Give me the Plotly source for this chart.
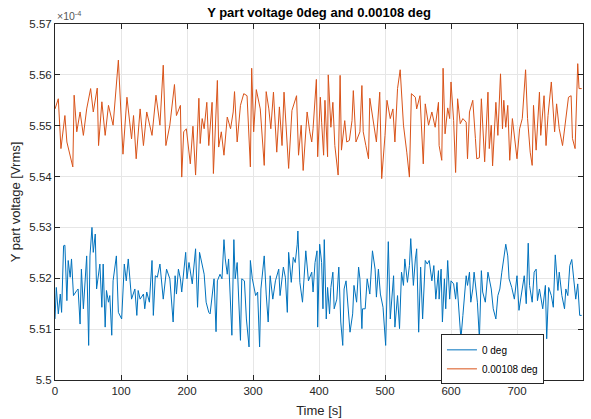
import plotly.graph_objects as go

# Values in units of 1e-4 V (axis shows x10^-4 multiplier)
SCALE_EXP = -4

t_0deg = [0, 2, 5, 8, 10, 13, 15, 18, 20, 23, 25, 28, 33, 35, 38, 40, 43, 48, 51, 53, 56, 58, 61, 63, 68, 71, 73, 76, 78, 81, 83, 86, 88, 91, 93, 96,
          101, 105, 108, 111, 114, 116, 121, 124, 126, 129, 134, 136, 139, 143, 147, 149, 152, 155, 159, 164, 169, 174, 179, 182, 184, 187,
          190, 192, 198, 200, 203, 208, 213, 216, 219, 223, 226, 229, 233, 235, 239, 241, 244, 246, 250, 253, 256, 258, 261, 263, 268, 271, 273, 276,
          281, 283, 287, 290, 294, 296, 299, 304, 307, 310, 312, 317, 320, 323, 326, 330, 334, 339, 341, 346, 349, 352, 354, 358, 361, 364, 367, 368,
          371, 375, 380, 384, 389, 391, 394, 397, 398, 401, 404, 406, 408, 411, 413, 416, 418, 421, 423, 427, 430, 433, 436, 438, 441, 444, 447, 451,
          453, 457, 460, 462, 465, 466, 470, 473, 477, 481, 485, 487, 490, 493, 497, 501, 504, 505, 508, 510, 513, 515, 519, 522, 525, 528, 530, 534,
          537, 539, 543, 546, 548, 551, 554, 557, 561, 564, 567, 571, 574, 577, 581, 582, 585, 587, 590, 592, 595, 598, 600, 604, 607, 609, 612, 615,
          618, 620, 623, 625, 628, 630, 633, 635, 638, 640, 643, 646, 648, 652, 656, 658, 661, 664, 668, 671, 674, 677, 679, 683, 686, 688, 692, 696,
          700, 703, 706, 709, 711, 714, 717, 719, 723, 726, 729, 731, 734, 739, 743, 745, 748, 752, 755, 758, 762, 764, 768, 772, 774, 777, 780, 783,
          787, 789, 792, 795, 798]
v_0deg = [5.5120, 5.5182, 5.5130, 5.5169, 5.5133, 5.5264, 5.5265, 5.5156, 5.5235, 5.5202, 5.5238, 5.5166, 5.5176, 5.5179, 5.5110, 5.5218,
          5.5140, 5.5244, 5.5068, 5.5244, 5.5300, 5.5251, 5.5287, 5.5179, 5.5228, 5.5143, 5.5228, 5.5104, 5.5176, 5.5153, 5.5166, 5.5088,
          5.5195, 5.5228, 5.5244, 5.5133, 5.5120, 5.5228, 5.5195, 5.5238, 5.5195, 5.5159, 5.5179, 5.5127, 5.5176, 5.5159, 5.5169, 5.5140,
          5.5173, 5.5153, 5.5235, 5.5127, 5.5205, 5.5202, 5.5228, 5.5159, 5.5218, 5.5199, 5.5114, 5.5205, 5.5169, 5.5218,
          5.5199, 5.5173, 5.5251, 5.5199, 5.5231, 5.5189, 5.5258, 5.5143, 5.5251, 5.5228, 5.5208, 5.5153, 5.5133, 5.5130, 5.5186, 5.5199,
          5.5095, 5.5195, 5.5208, 5.5199, 5.5276, 5.5238, 5.5208, 5.5238, 5.5088, 5.5276, 5.5199, 5.5231, 5.5078, 5.5199, 5.5195, 5.5120,
          5.5065, 5.5235, 5.5199, 5.5166, 5.5173, 5.5065, 5.5179, 5.5244, 5.5169, 5.5114, 5.5205, 5.5159, 5.5195, 5.5218, 5.5166, 5.5222,
          5.5202, 5.5133, 5.5251, 5.5192, 5.5241, 5.5231, 5.5267, 5.5293, 5.5192, 5.5153, 5.5254, 5.5195, 5.5212, 5.5173, 5.5231, 5.5254,
          5.5104, 5.5267, 5.5231, 5.5140, 5.5276, 5.5120, 5.5182, 5.5130, 5.5182, 5.5212, 5.5140, 5.5159, 5.5222, 5.5114, 5.5068, 5.5179,
          5.5195, 5.5140, 5.5094, 5.5130, 5.5186, 5.5153, 5.5222, 5.5199, 5.5101, 5.5140, 5.5140, 5.5199, 5.5169, 5.5254, 5.5218, 5.5163,
          5.5218, 5.5169, 5.5143, 5.5068, 5.5238, 5.5272, 5.5120, 5.5153, 5.5205, 5.5104, 5.5166, 5.5101, 5.5212, 5.5186, 5.5238, 5.5192,
          5.5225, 5.5278, 5.5186, 5.5238, 5.5258, 5.5094, 5.5222, 5.5120, 5.5235, 5.5228, 5.5235, 5.5195, 5.5225, 5.5159, 5.5215, 5.5159,
          5.5218, 5.5114, 5.5199, 5.5140, 5.5235, 5.5159, 5.5195, 5.5189, 5.5159, 5.5192, 5.5143, 5.5081, 5.5127, 5.5163, 5.5205, 5.5186,
          5.5212, 5.5153, 5.5179, 5.5212, 5.5169, 5.5153, 5.5081, 5.5215, 5.5173, 5.5153, 5.5212, 5.5199, 5.5179, 5.5140, 5.5120, 5.5166,
          5.5179, 5.5212, 5.5231, 5.5267, 5.5244, 5.5199, 5.5182, 5.5159, 5.5205, 5.5137, 5.5163, 5.5186, 5.5205, 5.5150, 5.5269, 5.5186,
          5.5153, 5.5212, 5.5218, 5.5156, 5.5179, 5.5140, 5.5186, 5.5081, 5.5182, 5.5166, 5.5143, 5.5246, 5.5176, 5.5212, 5.5166, 5.5140,
          5.5179, 5.5166, 5.5225, 5.5237, 5.5189, 5.5159, 5.5189, 5.5127, 5.5127]

t_00108deg = [0, 5, 9, 15, 18, 27, 29, 33, 38, 43, 48, 54, 58, 64, 66, 71, 76, 81, 88, 96, 103, 109, 116, 119, 123, 129, 134, 139, 147, 153,
              159, 164, 168, 174, 181, 184, 190, 192, 195, 199, 205, 209, 213, 218, 220, 223, 226, 230, 233, 238, 240, 246, 248, 252, 256,
              261, 266, 270, 272, 276, 281, 286, 291, 296, 298, 301, 305, 311, 317, 320, 324, 327, 331, 336, 340, 344, 347, 351, 354, 359,
              366, 369, 373, 376, 382, 386, 389, 391, 396, 398, 402, 404, 407, 409, 413, 414, 418, 421, 424, 429, 432, 434, 439, 442, 446,
              450, 452, 456, 462, 465, 467, 471, 475, 477, 482, 487, 492, 495, 500, 503, 508, 512, 515, 519, 523, 528, 533, 537, 540, 546,
              548, 553, 558, 561, 566, 571, 576, 581, 582, 586, 588, 591, 595, 598, 600, 604, 607, 610, 614, 618, 623, 625, 628, 633, 637,
              639, 643, 646, 651, 656, 658, 661, 663, 668, 671, 675, 678, 680, 683, 686, 689, 693, 700, 704, 708, 713, 716, 720, 723, 725,
              729, 734, 736, 741, 744, 747, 752, 757, 760, 764, 769, 774, 778, 782, 784, 788, 789, 792, 794, 798]
v_00108deg = [5.5533, 5.5553, 5.5455, 5.5520, 5.5468, 5.5419, 5.5560, 5.5488, 5.5527, 5.5481, 5.5533, 5.5573, 5.5527, 5.5574, 5.5461,
              5.5547, 5.5481, 5.5540, 5.5501, 5.5629, 5.5444, 5.5556, 5.5474, 5.5520, 5.5435, 5.5533, 5.5461, 5.5527, 5.5481, 5.5560,
              5.5501, 5.5619, 5.5461, 5.5501, 5.5581, 5.5520, 5.5540, 5.5399, 5.5488, 5.5494, 5.5425, 5.5499, 5.5403, 5.5554, 5.5465,
              5.5514, 5.5494, 5.5546, 5.5461, 5.5546, 5.5406, 5.5589, 5.5458, 5.5488, 5.5442, 5.5517, 5.5494, 5.5527, 5.5567, 5.5468,
              5.5540, 5.5563, 5.5559, 5.5419, 5.5613, 5.5488, 5.5571, 5.5533, 5.5422, 5.5567, 5.5533, 5.5494, 5.5566, 5.5448, 5.5537,
              5.5461, 5.5566, 5.5481, 5.5416, 5.5530, 5.5559, 5.5442, 5.5501, 5.5412, 5.5527, 5.5488, 5.5468, 5.5494, 5.5591, 5.5439,
              5.5556, 5.5507, 5.5442, 5.5550, 5.5439, 5.5600, 5.5497, 5.5546, 5.5461, 5.5403, 5.5599, 5.5452, 5.5510, 5.5468, 5.5471,
              5.5510, 5.5569, 5.5468, 5.5488, 5.5579, 5.5488, 5.5461, 5.5435, 5.5554, 5.5507, 5.5468, 5.5566, 5.5396, 5.5481, 5.5550,
              5.5514, 5.5533, 5.5468, 5.5573, 5.5610, 5.5501, 5.5448, 5.5399, 5.5563, 5.5556, 5.5533, 5.5559, 5.5425, 5.5543, 5.5501,
              5.5527, 5.5497, 5.5546, 5.5461, 5.5432, 5.5613, 5.5484, 5.5535, 5.5514, 5.5586, 5.5510, 5.5408, 5.5553, 5.5504, 5.5514,
              5.5507, 5.5435, 5.5527, 5.5550, 5.5475, 5.5435, 5.5437, 5.5553, 5.5429, 5.5566, 5.5455, 5.5501, 5.5421, 5.5546, 5.5481,
              5.5602, 5.5494, 5.5550, 5.5497, 5.5540, 5.5432, 5.5514, 5.5435, 5.5494, 5.5514, 5.5610, 5.5514, 5.5448, 5.5422, 5.5540,
              5.5452, 5.5566, 5.5481, 5.5559, 5.5461, 5.5520, 5.5586, 5.5488, 5.5543, 5.5494, 5.5461, 5.5510, 5.5556, 5.5559, 5.5475,
              5.5455, 5.5501, 5.5622, 5.5573, 5.5573]

x_ticks = [0, 100, 200, 300, 400, 500, 600, 700, 800]
y_ticks = [5.5, 5.51, 5.52, 5.53, 5.54, 5.55, 5.56, 5.57]
y_tick_labels = ["5.5", "5.51", "5.52", "5.53", "5.54", "5.55", "5.56", "5.57"]

series_names = ["0 deg", "0.00108 deg"]
title_text = "Y part voltage 0deg and 0.00108 deg"
x_label = "Time [s]"
y_label = "Y part voltage [Vrms]"

FONT = "Liberation Sans, Arial, Helvetica, sans-serif"
AX = "#262626"

fig = go.Figure()
fig.add_trace(go.Scatter(x=t_0deg, y=v_0deg, mode="lines", name=series_names[0],
                         line=dict(color="#0072BD", width=1)))
fig.add_trace(go.Scatter(x=t_00108deg, y=v_00108deg, mode="lines", name=series_names[1],
                         line=dict(color="#D95319", width=1)))

axis_common = dict(showline=True, linecolor=AX, linewidth=1, mirror="ticks",
                   ticks="inside", ticklen=5, tickcolor=AX, tickwidth=1,
                   showgrid=True, gridcolor="#e6e6e6", gridwidth=1, zeroline=False,
                   automargin=False,
                   tickfont=dict(family=FONT, size=11.5, color=AX))

fig.update_xaxes(range=[0, 800], tickvals=x_ticks, **axis_common,
                 title=dict(text=x_label, font=dict(family=FONT, size=13, color=AX), standoff=10))
fig.update_yaxes(range=[5.5, 5.57], tickvals=y_ticks, ticktext=y_tick_labels, **axis_common,
                 title=dict(text=y_label, font=dict(family=FONT, size=13, color=AX), standoff=5))

fig.update_layout(
    width=591, height=419,
    margin=dict(l=55, r=8, t=24, b=39),
    paper_bgcolor="white", plot_bgcolor="white",
    title=dict(text="<b>" + title_text + "</b>", xref="paper", x=0.5, xanchor="center",
               y=0.982, yanchor="top",
               font=dict(family=FONT, size=13, color="black")),
    showlegend=True,
    legend=dict(x=0.731, y=0.058, xanchor="left", yanchor="middle",
                bgcolor="white", bordercolor=AX, borderwidth=1,
                font=dict(family=FONT, size=10, color="black"),
                tracegroupgap=0, itemwidth=30),
    annotations=[dict(text="\u00d710<sup>" + str(SCALE_EXP) + "</sup>", xref="paper", yref="paper",
                      x=0.0, y=1.0, xanchor="left", yanchor="bottom", showarrow=False,
                      font=dict(family=FONT, size=10.5, color="#555555"))],
)

fig.write_html("out.html", config={"displayModeBar": False},
               post_script="document.body.style.margin='0';document.body.style.overflow='hidden';")
